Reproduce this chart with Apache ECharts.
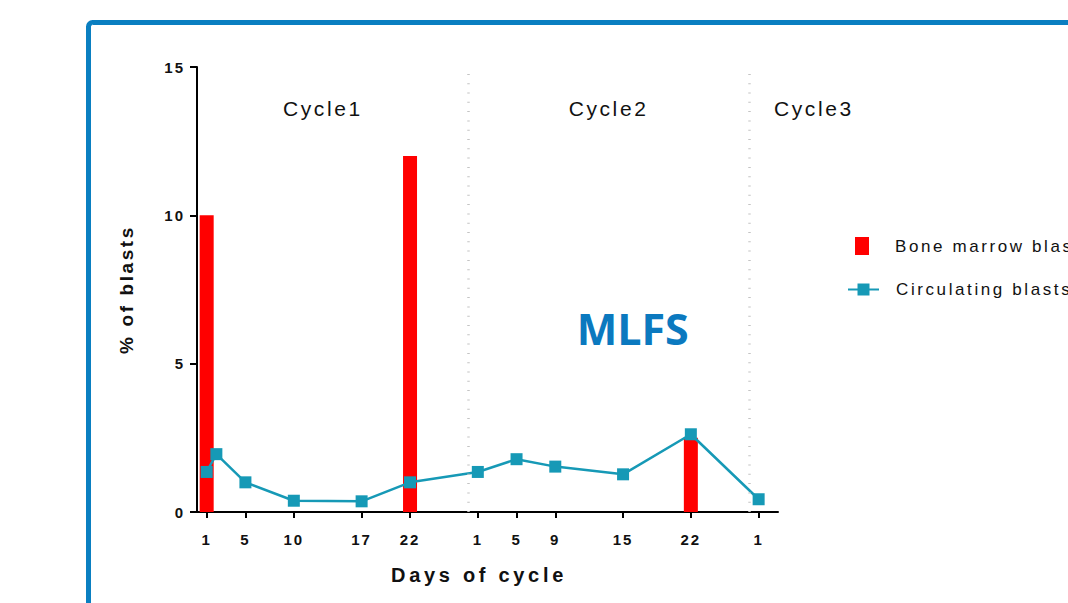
<!DOCTYPE html>
<html><head><meta charset="utf-8">
<script src="https://cdn.jsdelivr.net/npm/echarts@6/dist/echarts.min.js"></script>
<style>
html,body{margin:0;padding:0;background:#fff;}
#chart{width:1068px;height:603px;}
#chart text{letter-spacing:2.6px;}
#chart text[style*="15px"]{letter-spacing:2px;}
#chart text[style*="20px"]{letter-spacing:3.7px;}
#chart text[style*="Liberation"]{letter-spacing:2.6px;}
#chart text[style*="Open Sans"]{letter-spacing:0;}
</style></head><body><div id="chart"></div>
<script>
const tickDays = [1, 5, 10, 17, 22, 29, 33, 37, 44, 51, 58];
const tickLabels = ['1', '5', '10', '17', '22', '1', '5', '9', '15', '22', '1'];
const boneDays = [1, 22, 51];
const boneValues = [10, 12, 2.5];
const circDays = [1, 2, 5, 10, 17, 22, 29, 33, 37, 44, 51, 58];
const circValues = [1.35, 1.95, 1.0, 0.38, 0.36, 1.0, 1.35, 1.78, 1.53, 1.27, 2.62, 0.43];
const cycleBounds = [28, 57];
const cycleNames = ['Cycle1', 'Cycle2', 'Cycle3'];
const cycleLabelDays = [13, 42.5, 63.7];
const cycleLabelY = 13.6;
const noteText = 'MLFS';
const notePos = [45, 6.2];

const chart = echarts.init(document.getElementById('chart'), null, {renderer: 'svg'});
const txt = '#111';
chart.setOption({
  animation: false,
  grid: {left: 197, top: 67, width: 581, height: 445},
  legend: [
    {data: ['Bone marrow blasts'], left: 855, top: 237, padding: 0, itemWidth: 14, itemHeight: 18, icon: 'rect',
     textStyle: {fontFamily: 'Arial', fontSize: 17, color: txt, padding: [0, 0, 0, 21]}},
    {data: ['Circulating blasts'], left: 847, top: 281, padding: 0, itemWidth: 31, itemHeight: 15,
     textStyle: {fontFamily: 'Arial', fontSize: 17, color: txt, padding: [0, 0, 0, 12]}}
  ],
  xAxis: {
    type: 'value', min: 0, max: 60,
    name: 'Days of cycle', nameLocation: 'middle', nameGap: 53,
    nameTextStyle: {fontFamily: 'Arial', fontWeight: 'bold', fontSize: 20, color: txt, padding: [0, 17, 0, 0]},
    axisLine: {show: true, lineStyle: {color: '#000', width: 2}},
    axisTick: {show: true, length: 6, lineStyle: {color: '#000', width: 2}, customValues: tickDays},
    axisLabel: {customValues: tickDays, margin: 20, fontFamily: 'Arial', fontWeight: 'bold', fontSize: 15, color: txt,
      formatter: v => { const i = tickDays.indexOf(v); return i >= 0 ? tickLabels[i] : ''; }},
    splitLine: {show: false}
  },
  yAxis: {
    type: 'value', min: 0, max: 15, interval: 5,
    name: '% of blasts', nameLocation: 'middle', nameGap: 61,
    nameTextStyle: {fontFamily: 'Liberation Sans', fontWeight: 'bold', fontSize: 19, color: txt},
    axisLine: {show: true, lineStyle: {color: '#000', width: 2}},
    axisTick: {show: true, length: 7, lineStyle: {color: '#000', width: 2}},
    axisLabel: {margin: 12, fontFamily: 'Arial', fontWeight: 'bold', fontSize: 15, color: txt},
    splitLine: {show: false}
  },
  series: [
    {
      name: 'Bone marrow blasts', type: 'bar', barWidth: 14, z: 2,
      itemStyle: {color: '#ff0000'},
      data: boneDays.map((d, i) => [d, boneValues[i]]),
      markLine: {
        silent: true, symbol: 'none', label: {show: false},
        lineStyle: {color: '#c4c4c4', width: 2.5, type: [1, 8.3]},
        data: cycleBounds.map(b => ({xAxis: b}))
      }
    },
    {
      name: 'Circulating blasts', type: 'line', z: 3,
      symbol: 'rect', symbolSize: 12,
      itemStyle: {color: '#1699b6'},
      lineStyle: {color: '#1699b6', width: 2.5},
      data: circDays.map((d, i) => [d, circValues[i]])
    }
  ]
});

const graphics = [{
  type: 'rect', silent: true, z: 100,
  shape: {x: 88.5, y: 22.5, width: 1100, height: 700, r: 4},
  style: {fill: 'none', stroke: '#0a7fc1', lineWidth: 5}
}];
cycleNames.forEach((n, i) => {
  const p = chart.convertToPixel({gridIndex: 0}, [cycleLabelDays[i], cycleLabelY]);
  graphics.push({type: 'text', x: p[0], y: p[1], silent: true,
    style: {text: n, fontFamily: 'Arial', fontSize: 21, fill: txt, textAlign: 'center', textVerticalAlign: 'middle'}});
});
const np = chart.convertToPixel({gridIndex: 0}, notePos);
graphics.push({type: 'text', x: np[0], y: np[1], silent: true,
  style: {text: noteText, fontFamily: 'Open Sans', fontWeight: 'bold', fontSize: 43, fill: '#0b79bf', textAlign: 'center', textVerticalAlign: 'middle'}});
chart.setOption({graphic: graphics});
</script></body></html>
